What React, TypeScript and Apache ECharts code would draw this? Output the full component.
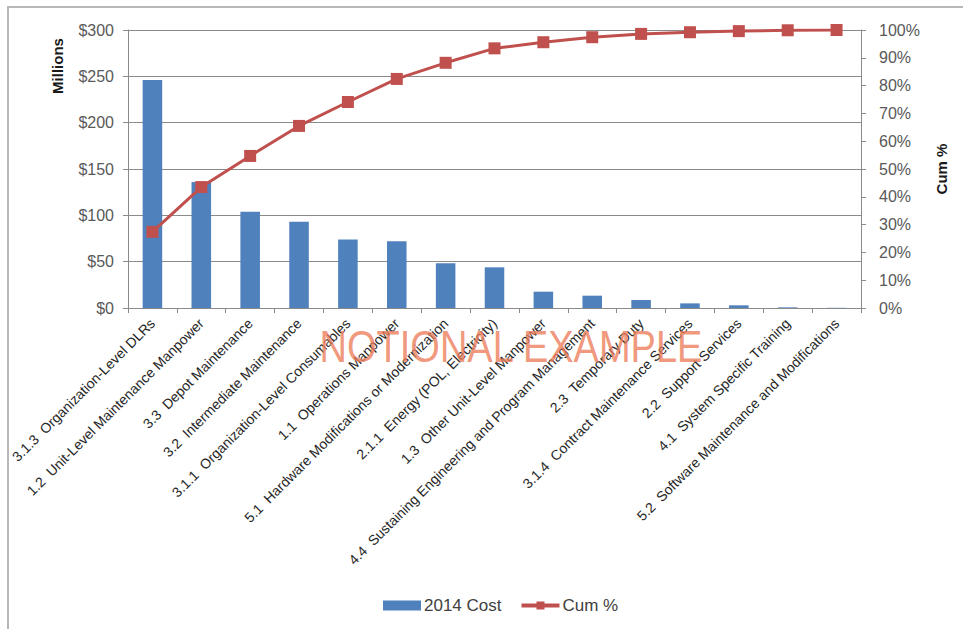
import React, { useEffect, useRef } from "react";
import * as echarts from "echarts";

const categories = [
  "3.1.3  Organization-Level DLRs",
  "1.2  Unit-Level Maintenance Manpower",
  "3.3  Depot Maintenance",
  "3.2  Intermediate Maintenance",
  "3.1.1  Organization-Level Consumables",
  "1.1  Operations Manpower",
  "5.1  Hardware Modifications or Modernization",
  "2.1.1  Energy (POL, Electricity)",
  "1.3  Other Unit-Level Manpower",
  "4.4  Sustaining Engineering and Program Management",
  "2.3  Temporary Duty",
  "3.1.4  Contract Maintenance Services",
  "2.2  Support Services",
  "4.1  System Specific Training",
  "5.2  Software Maintenance and Modifications",
];

const cost2014 = [246, 136, 104, 93, 74, 72, 48.2, 43.9, 17.6, 13.3, 8.6, 5, 2.9, 0.7, 0.2];

const cumPct = [27.4, 43.5, 54.7, 65.5, 74.1, 82.4, 88.2, 93.4, 95.6, 97.4, 98.6, 99.2, 99.6, 99.9, 100];

const leftTicks = { min: 0, max: 300, interval: 50 };
const rightTicks = { min: 0, max: 100, interval: 10 };

const FONT = "'Liberation Sans', Arial, sans-serif";

export default function App() {
  const ref = useRef<HTMLDivElement>(null);

  useEffect(() => {
    if (!ref.current) return;
    const chart = echarts.init(ref.current, undefined, { renderer: "svg" });
    const axisGray = "#8a8a8a";
    chart.setOption({
      animation: false,
      backgroundColor: "#ffffff",
      textStyle: { fontFamily: FONT },
      grid: { left: 128, right: 102, top: 30, bottom: 321, containLabel: false },
      legend: {
        top: 592,
        left: 378,
        itemGap: 18,
        itemWidth: 38,
        itemHeight: 10,
        textStyle: { fontSize: 17, color: "#404040", fontFamily: FONT, padding: [0, 0, 0, -2] },
        data: [
          { name: "2014 Cost", icon: "rect" },
          { name: "Cum %", lineStyle: { width: 4, color: "#C0504D" } },
        ],
      },
      xAxis: {
        type: "category",
        data: categories,
        axisLine: { lineStyle: { color: axisGray, width: 1 } },
        axisTick: { show: true, alignWithLabel: false, length: 5, lineStyle: { color: axisGray } },
        axisLabel: {
          rotate: 45,
          interval: 0,
          margin: 13,
          fontSize: 14,
          color: "#262626",
          fontFamily: FONT,
        },
      },
      yAxis: [
        {
          type: "value",
          min: leftTicks.min,
          max: leftTicks.max,
          interval: leftTicks.interval,
          axisLine: { show: true, lineStyle: { color: axisGray } },
          axisTick: { show: true, length: 5, lineStyle: { color: axisGray } },
          splitLine: { show: true, lineStyle: { color: axisGray, width: 1 } },
          axisLabel: {
            formatter: (v: number) => "$" + v,
            fontSize: 16,
            color: "#595959",
            margin: 14,
            fontFamily: FONT,
          },
        },
        {
          type: "value",
          min: rightTicks.min,
          max: rightTicks.max,
          interval: rightTicks.interval,
          position: "right",
          axisLine: { show: true, lineStyle: { color: axisGray } },
          axisTick: { show: true, length: 5, lineStyle: { color: axisGray } },
          splitLine: { show: false },
          axisLabel: {
            formatter: (v: number) => v + "%",
            fontSize: 16,
            color: "#595959",
            margin: 18,
            fontFamily: FONT,
          },
        },
      ],
      series: [
        {
          name: "2014 Cost",
          type: "bar",
          data: cost2014,
          yAxisIndex: 0,
          barWidth: "40%",
          itemStyle: { color: "#4F81BD" },
        },
        {
          name: "Cum %",
          type: "line",
          data: cumPct,
          yAxisIndex: 1,
          symbol: "rect",
          symbolSize: 12,
          lineStyle: { color: "#C0504D", width: 3 },
          itemStyle: { color: "#C0504D" },
          z: 5,
        },
      ],
      graphic: [
        {
          type: "rect",
          shape: { x: 8, y: 7, width: 1000, height: 700 },
          style: { fill: "none", stroke: "#b8b8b8", lineWidth: 2 },
          silent: true,
          z: 0,
        },
        {
          type: "text",
          x: 57,
          y: 66,
          rotation: Math.PI / 2,
          style: {
            text: "Millions",
            fontSize: 15,
            fontWeight: "bold",
            fill: "#1a1a1a",
            fontFamily: FONT,
            align: "center",
            verticalAlign: "middle",
          },
          z: 10,
        },
        {
          type: "text",
          x: 941,
          y: 169,
          rotation: Math.PI / 2,
          style: {
            text: "Cum %",
            fontSize: 15,
            fontWeight: "bold",
            fill: "#1a1a1a",
            fontFamily: FONT,
            align: "center",
            verticalAlign: "middle",
          },
          z: 10,
        },
        {
          type: "text",
          x: 511,
          y: 346,
          scaleY: 1.18,
          style: {
            text: "NOTIONAL EXAMPLE",
            fontSize: 38,
            fill: "rgba(236,125,90,0.8)",
            fontFamily: FONT,
            align: "center",
            verticalAlign: "middle",
          },
          z: 100,
          silent: true,
        },
      ],
    });
    return () => chart.dispose();
  }, []);

  return (
    <div
      ref={ref}
      style={{ position: "fixed", left: 0, top: 0, width: 963, height: 629 }}
    />
  );
}
